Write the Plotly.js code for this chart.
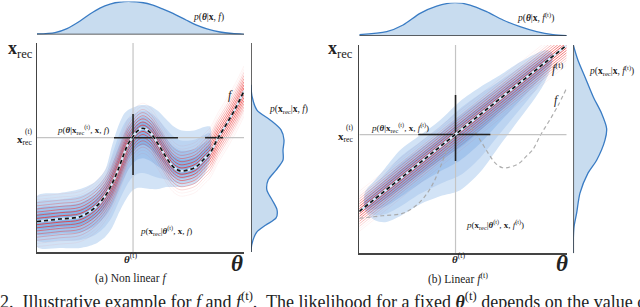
<!DOCTYPE html>
<html><head><meta charset="utf-8">
<script src="https://cdn.plot.ly/plotly-3.0.1.min.js"></script>
<style>html,body{margin:0;padding:0;background:#fff}#chart{width:640px;height:307px}</style>
</head><body><div id="chart"></div>
<script>
// ---------- data (unit coordinates) ----------
const thetaT = 0.464;           // θ^(t)
const xrecT = 0.547;            // x_rec^(t)

// nonlinear f (panel a, also grey in panel b)
const thetaF = [0, 0.111, 0.208, 0.280, 0.329, 0.362, 0.391, 0.420, 0.440, 0.459, 0.483, 0.512, 0.546, 0.585, 0.623, 0.657, 0.691, 0.729, 0.768, 0.807, 0.836, 0.874, 0.913, 0.957, 1.0];
const fVals  = [0.146, 0.158, 0.169, 0.212, 0.268, 0.325, 0.392, 0.469, 0.517, 0.545, 0.577, 0.592, 0.572, 0.517, 0.455, 0.409, 0.388, 0.392, 0.407, 0.445, 0.474, 0.545, 0.608, 0.684, 0.770];
// outer blue region of panel a (first 21 θ values)
const blueUpperA = [0.268, 0.282, 0.301, 0.335, 0.392, 0.507, 0.598, 0.660, 0.679, 0.689, 0.699, 0.703, 0.699, 0.675, 0.636, 0.603, 0.584, 0.579, 0.584, 0.598, 0.600];
const blueLowerA = [0.024, 0.019, 0.019, 0.038, 0.072, 0.115, 0.177, 0.234, 0.268, 0.292, 0.306, 0.306, 0.301, 0.301, 0.311, 0.311, 0.311, 0.316, 0.330, 0.368, 0.440];

// linear f^(t) (panel b)
const thetaFt = [0, 1];
const ftVals  = [0.179, 0.975];
const thetaBlueB = [0.027, 0.075, 0.124, 0.196, 0.293, 0.389, 0.486, 0.582, 0.678, 0.775, 0.847, 0.895, 0.929];
const blueUpperB = [0.271, 0.328, 0.386, 0.472, 0.544, 0.616, 0.707, 0.774, 0.831, 0.894, 0.932, 0.951, 0.942];
const blueLowerB = [0.184, 0.136, 0.127, 0.156, 0.213, 0.251, 0.280, 0.366, 0.496, 0.625, 0.721, 0.798, 0.884];

// cross segments p(θ|x_rec^(t),...) and p(x_rec|θ^(t),...)
const crossHA = [[0.372, 0.681], [0.812, 0.899]];
const crossVA = [0.368, 0.660];
const crossHB = [[0.284, 0.632]];
const crossVB = [0.420, 0.736];

// marginal densities
const thetaTopA = [0, 0.087, 0.145, 0.208, 0.256, 0.304, 0.353, 0.401, 0.454, 0.507, 0.560, 0.609, 0.657, 0.720, 0.768, 0.821, 0.884, 0.942, 1.0];
const densTopA  = [0.015, 0.06, 0.18, 0.41, 0.62, 0.80, 0.92, 0.985, 1.0, 0.97, 0.89, 0.77, 0.64, 0.44, 0.29, 0.17, 0.076, 0.03, 0.006];
const xrecSideA = [0.80, 0.746, 0.679, 0.632, 0.584, 0.536, 0.488, 0.440, 0.392, 0.344, 0.297, 0.249, 0.201, 0.163, 0.129, 0.096, 0.057, 0.010, 0.0];
const densSideA = [0.0, 0.03, 0.18, 0.58, 0.91, 1.0, 0.97, 0.97, 0.76, 0.52, 0.48, 0.64, 0.79, 0.76, 0.45, 0.18, 0.06, 0.0, 0.0];
const thetaTopB = [0, 0.132, 0.211, 0.293, 0.373, 0.461, 0.534, 0.614, 0.693, 0.775, 0.855, 0.934, 1.0];
const densTopB  = [0.04, 0.13, 0.33, 0.68, 0.90, 1.0, 0.93, 0.73, 0.48, 0.28, 0.13, 0.04, 0.01];
const xrecSideB = [0.975, 0.903, 0.823, 0.727, 0.648, 0.576, 0.520, 0.424, 0.362, 0.266, 0.170, 0.103, 0.041, -0.022];
const densSideB = [0.0, 0.14, 0.35, 0.60, 0.85, 1.0, 0.95, 0.70, 0.44, 0.20, 0.10, 0.02, 0.0, 0.0];

// ---------- styling ----------
const SERIF = 'Liberation Serif';
const blueLevels = [[1.0, '#d2e3f6'], [0.75, '#bcd4f1'], [0.5, '#a3c4ec'], [0.28, '#87b3e6']];
const redCount = 8;
const redStepA = 0.015, redStepB = 0.012;

function lin(xs, ys, x) {
  for (let i = 0; i < xs.length - 1; i++) {
    if (x >= xs[i] && x <= xs[i + 1]) { const t = (x - xs[i]) / (xs[i + 1] - xs[i]); return ys[i] + t * (ys[i + 1] - ys[i]); }
  }
  return x < xs[0] ? ys[0] : ys[ys.length - 1];
}

const traces = [];
function bands(th, fc, up, lo, xa, ya) {
  blueLevels.forEach(([k, col]) => {
    const xs = [], ys = [];
    for (let i = 0; i < th.length; i++) { xs.push(th[i]); ys.push(fc[i] + k * (up[i] - fc[i])); }
    for (let i = th.length - 1; i >= 0; i--) { xs.push(th[i]); ys.push(fc[i] - k * (fc[i] - lo[i])); }
    xs.push(xs[0]); ys.push(ys[0]);
    traces.push({x: xs, y: ys, xaxis: xa, yaxis: ya, mode: 'lines', fill: 'toself', fillcolor: col,
      line: {width: 0, shape: 'spline', smoothing: 0.8, color: col}, hoverinfo: 'skip'});
  });
}
function redLines(th, fv, step, xa, ya, shape) {
  for (let j = redCount; j >= 0; j--) {
    [j, -j].forEach((s, idx) => {
      if (j === 0 && idx === 1) return;
      const a = Math.max(0.06, 0.9 - j * 0.12);
      traces.push({x: th, y: fv.map(v => v + s * step), xaxis: xa, yaxis: ya, mode: 'lines',
        line: {width: 1, color: 'rgba(235,45,45,' + a + ')', shape: shape}, hoverinfo: 'skip'});
    });
  }
}

// panel a
const fA = fVals.slice(0, blueUpperA.length);
bands(thetaF.slice(0, blueUpperA.length), fA, blueUpperA, blueLowerA, 'x', 'y');
redLines(thetaF, fVals, redStepA, 'x', 'y', 'spline');
// panel b
const fB = thetaBlueB.map(t => lin(thetaFt, ftVals, t));
bands(thetaBlueB, fB, blueUpperB, blueLowerB, 'x2', 'y2');
redLines(thetaFt, ftVals, redStepB, 'x2', 'y2', 'linear');
// grey nonlinear f in panel b
traces.push({x: thetaF, y: fVals, xaxis: 'x2', yaxis: 'y2', mode: 'lines',
  line: {color: 'rgba(165,165,165,0.9)', width: 1.2, dash: '4px,3px', shape: 'spline'}, hoverinfo: 'skip'});

// reference lines and cross segments
[['x', 'y', [0, 1]], ['x2', 'y2', [-0.022, 0.976]]].forEach(([xa, ya, yr]) => {
  traces.push({x: [thetaT, thetaT], y: yr, xaxis: xa, yaxis: ya, mode: 'lines', line: {color: '#c4c4c4', width: 1.2}, hoverinfo: 'skip'});
  traces.push({x: [0, 1], y: [xrecT, xrecT], xaxis: xa, yaxis: ya, mode: 'lines', line: {color: '#c4c4c4', width: 1.2}, hoverinfo: 'skip'});
});
function cross(hs, v, xa, ya) {
  hs.forEach(h => traces.push({x: h, y: [xrecT, xrecT], xaxis: xa, yaxis: ya, mode: 'lines', line: {color: '#222', width: 1.6}, hoverinfo: 'skip'}));
  traces.push({x: [thetaT, thetaT], y: v, xaxis: xa, yaxis: ya, mode: 'lines', line: {color: '#222', width: 1.6}, hoverinfo: 'skip'});
}
cross(crossHA, crossVA, 'x', 'y');
cross(crossHB, crossVB, 'x2', 'y2');

// dashed main curves
[[thetaF, fVals, 'x', 'y', 'spline'], [thetaFt, ftVals, 'x2', 'y2', 'linear']].forEach(([xs, ys, xa, ya, sh]) => {
  traces.push({x: xs, y: ys, xaxis: xa, yaxis: ya, mode: 'lines', line: {color: '#d9e8f8', width: 2.4, shape: sh}, hoverinfo: 'skip'});
  traces.push({x: xs, y: ys, xaxis: xa, yaxis: ya, mode: 'lines', line: {color: '#111', width: 1.7, dash: '4px,3px', shape: sh}, hoverinfo: 'skip'});
});

// marginals
const margLine = {color: '#3a7cc4', width: 1.3, shape: 'spline', smoothing: 0.8};
const margFill = 'rgba(140,182,222,0.48)';
traces.push({x: thetaTopA, y: densTopA, xaxis: 'x', yaxis: 'y3', mode: 'lines', fill: 'tozeroy', fillcolor: margFill, line: margLine, hoverinfo: 'skip'});
traces.push({x: densSideA, y: xrecSideA, xaxis: 'x3', yaxis: 'y', mode: 'lines', fill: 'tozerox', fillcolor: margFill, line: margLine, hoverinfo: 'skip'});
traces.push({x: thetaTopB, y: densTopB, xaxis: 'x2', yaxis: 'y4', mode: 'lines', fill: 'tozeroy', fillcolor: margFill, line: margLine, hoverinfo: 'skip'});
traces.push({x: densSideB, y: xrecSideB, xaxis: 'x4', yaxis: 'y2', mode: 'lines', fill: 'tozerox', fillcolor: margFill, line: margLine, hoverinfo: 'skip'});

// ---------- layout ----------
const W = 640, H = 307;
const px = x => x / W, py = y => 1 - y / H;
const hidden = {visible: false, showgrid: false, zeroline: false};
const mainAx = {showline: true, linecolor: '#444', linewidth: 1.5, showgrid: false, zeroline: false, showticklabels: false, ticks: ''};

function ann(x, y, text, size, opts) {
  return Object.assign({xref: 'paper', yref: 'paper', x: px(x), y: py(y), text: text, showarrow: false,
    xanchor: 'center', yanchor: 'middle', font: {family: SERIF, size: size, color: '#222'}}, opts || {});
}
const bx = '<b>x</b>', th = '<b><i>θ</i></b>';
const annotations = [
  // panel a
  ann(20, 50, bx + '<sub>rec</sub>', 18),
  ann(34, 140, bx + '<sub>rec</sub>', 11, {xanchor: 'right'}),
  ann(28.5, 131, '(t)', 7.5),
  ann(130, 258, th + '<sup>(t)</sup>', 11),
  ann(237, 263, th, 23),
  ann(131, 278, '(a) Non linear <i>f</i>', 11.5),
  ann(83, 129, '<i>p</i>(' + th + '|' + bx + '<sub>rec</sub><sup>(t)</sup>, ' + bx + ', <i>f</i>)', 9),
  ann(230, 95, '<i>f</i>', 12),
  ann(166, 230, '<i>p</i>(' + bx + '<sub>rec</sub>|' + th + '<sup>(t)</sup>, ' + bx + ', <i>f</i>)', 9),
  ann(208, 17, '<i>p</i>(' + th + '|' + bx + ', <i>f</i>)', 9.5),
  ann(288, 110, '<i>p</i>(' + bx + '<sub>rec</sub>|' + bx + ', <i>f</i>)', 9.5),
  // panel b
  ann(340, 50, bx + '<sub>rec</sub>', 18),
  ann(355, 137, bx + '<sub>rec</sub>', 11, {xanchor: 'right'}),
  ann(349.5, 128, '(t)', 7.5),
  ann(400, 128, '<i>p</i>(' + th + '|' + bx + '<sub>rec</sub><sup>(t)</sup>, ' + bx + ', <i>f</i><sup>(t)</sup>)', 9),
  ann(557, 68, '<i>f</i><sup>(t)</sup>', 12),
  ann(556, 100, '<i>f</i>', 12),
  ann(495, 224, '<i>p</i>(' + bx + '<sub>rec</sub>|' + th + '<sup>(t)</sup>, ' + bx + ', <i>f</i><sup>(t)</sup>)', 9),
  ann(458, 258, th + '<sup>(t)</sup>', 11),
  ann(562, 263, th, 23),
  ann(458, 278, '(b) Linear <i>f</i><sup>(t)</sup>', 11.5),
  ann(535, 17, '<i>p</i>(' + th + '|' + bx + ', <i>f</i><sup>(t)</sup>)', 9.5),
  ann(611, 70, '<i>p</i>(' + bx + '<sub>rec</sub>|' + bx + ', <i>f</i><sup>(t)</sup>)', 9.5),
  // caption (cut at bottom)
  ann(-2, 287, '2.  Illustrative example for <i>f</i> and <i>f</i><sup>(t)</sup>.  The likelihood for a fixed <b><i>θ</i></b><sup>(t)</sup> depends on the value of', 18, {xanchor: 'left', yanchor: 'top'})
];

const spine = {color: '#333', width: 1.5};
const shapes = [
  {type: 'line', xref: 'x', yref: 'y3', x0: 0, x1: 1, y0: 0, y1: 0, line: spine},
  {type: 'line', xref: 'x3', yref: 'y', x0: 0, x1: 0, y0: 0, y1: 1, line: spine},
  {type: 'line', xref: 'x2', yref: 'y4', x0: 0, x1: 1, y0: 0, y1: 0, line: spine},
  {type: 'line', xref: 'x4', yref: 'y2', x0: 0, x1: 0, y0: -0.022, y1: 0.976, line: spine}
];

const layout = {
  width: W, height: H, margin: {l: 0, r: 0, t: 0, b: 0}, paper_bgcolor: '#fff', plot_bgcolor: 'rgba(0,0,0,0)',
  showlegend: false, font: {family: SERIF, color: '#222'},
  xaxis: Object.assign({domain: [px(37), px(244)], range: [0, 1], anchor: 'y'}, mainAx),
  yaxis: Object.assign({domain: [py(252), py(43)], range: [0, 1], anchor: 'x'}, mainAx),
  xaxis2: Object.assign({domain: [px(359.3), px(566.7)], range: [0, 1], anchor: 'y2'}, mainAx),
  yaxis2: Object.assign({domain: [py(253.3), py(45)], range: [-0.022, 0.976], anchor: 'x2'}, mainAx),
  xaxis3: Object.assign({domain: [px(251), px(291)], range: [0, 1.212], anchor: 'y'}, hidden),
  yaxis3: Object.assign({domain: [py(34.5), py(1.5)], range: [0, 1], anchor: 'x'}, hidden),
  xaxis4: Object.assign({domain: [px(573.3), px(613.3)], range: [0, 1.2], anchor: 'y2'}, hidden),
  yaxis4: Object.assign({domain: [py(36), py(2.7)], range: [0, 1], anchor: 'x2'}, hidden),
  shapes: shapes, annotations: annotations
};

Plotly.newPlot('chart', traces, layout, {staticPlot: true, displayModeBar: false});
</script>
</body></html>
